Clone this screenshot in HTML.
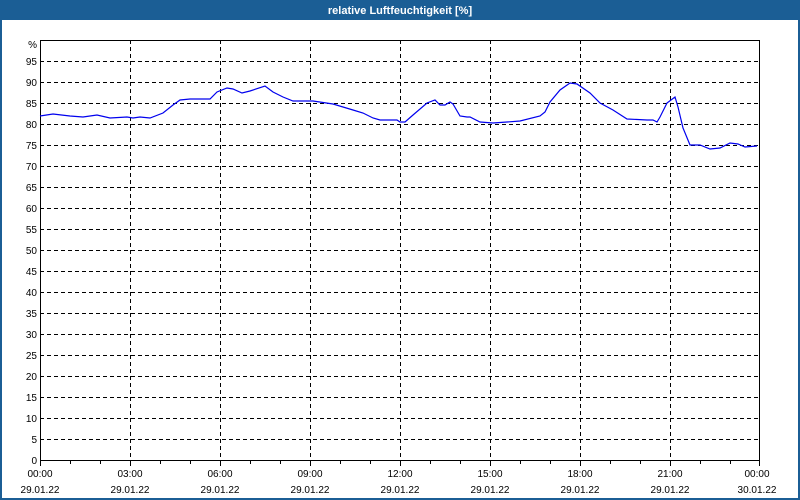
<!DOCTYPE html>
<html><head><meta charset="utf-8"><style>
html,body{margin:0;padding:0;background:#fff;}
svg{display:block;font-family:"Liberation Sans",Tahoma,sans-serif;}
</style></head><body>
<svg width="800" height="500" viewBox="0 0 800 500" xmlns="http://www.w3.org/2000/svg">
<rect x="0" y="0" width="800" height="500" fill="#1b5e95"/>
<rect x="2" y="20" width="796" height="478" fill="#fff"/>
<text x="400" y="14" fill="#fff" font-size="11" font-weight="bold" text-anchor="middle">relative Luftfeuchtigkeit [%]</text>
<g stroke="#000" stroke-width="1" stroke-dasharray="4,3" shape-rendering="crispEdges">
<path d="M40 61.5H760M40 82.5H760M40 103.5H760M40 124.5H760M40 145.5H760M40 166.5H760M40 187.5H760M40 208.5H760M40 229.5H760M40 250.5H760M40 271.5H760M40 292.5H760M40 313.5H760M40 334.5H760M40 355.5H760M40 376.5H760M40 397.5H760M40 418.5H760M40 439.5H760"/>
<path d="M130.5 40V460M220.5 40V460M310.5 40V460M400.5 40V460M490.5 40V460M580.5 40V460M670.5 40V460"/>
</g>
<g stroke="#000" stroke-width="1" fill="none" shape-rendering="crispEdges">
<rect x="40.5" y="40.5" width="719" height="420"/>
<path d="M40.5 460v6M70.5 460v4M100.5 460v4M130.5 460v6M160.5 460v4M190.5 460v4M220.5 460v6M250.5 460v4M280.5 460v4M310.5 460v6M340.5 460v4M370.5 460v4M400.5 460v6M430.5 460v4M460.5 460v4M490.5 460v6M520.5 460v4M550.5 460v4M580.5 460v6M610.5 460v4M640.5 460v4M670.5 460v6M700.5 460v4M730.5 460v4M759.5 460v6"/>
</g>
<g font-size="10" fill="#000" text-anchor="end">
<text x="37" y="48">%</text>
<text x="37" y="65">95</text><text x="37" y="86">90</text><text x="37" y="107">85</text><text x="37" y="128">80</text><text x="37" y="149">75</text><text x="37" y="170">70</text><text x="37" y="191">65</text><text x="37" y="212">60</text><text x="37" y="233">55</text><text x="37" y="254">50</text><text x="37" y="275">45</text><text x="37" y="296">40</text><text x="37" y="317">35</text><text x="37" y="338">30</text><text x="37" y="359">25</text><text x="37" y="380">20</text><text x="37" y="401">15</text><text x="37" y="422">10</text><text x="37" y="443">5</text><text x="37" y="464">0</text>
</g>
<g font-size="10" fill="#000" text-anchor="middle">
<text x="40" y="477">00:00</text><text x="40" y="493">29.01.22</text>
<text x="130" y="477">03:00</text><text x="130" y="493">29.01.22</text>
<text x="220" y="477">06:00</text><text x="220" y="493">29.01.22</text>
<text x="310" y="477">09:00</text><text x="310" y="493">29.01.22</text>
<text x="400" y="477">12:00</text><text x="400" y="493">29.01.22</text>
<text x="490" y="477">15:00</text><text x="490" y="493">29.01.22</text>
<text x="580" y="477">18:00</text><text x="580" y="493">29.01.22</text>
<text x="670" y="477">21:00</text><text x="670" y="493">29.01.22</text>
<text x="757" y="477">00:00</text><text x="757" y="493">30.01.22</text>
</g>
<polyline fill="none" stroke="#0000ee" stroke-width="1.2" points="40,116 53,114 70,116 83,117 97,115 110,118 127,117 133,118 140,117 150,118 163,113 173,105 180,100 190,99 210,99 217,92 227,88 233,89 242,93 250,91 265,86 273,92 283,97 293,101 313,101 333,104 353,110 363,113 373,118 380,120 397,120 400,122 405,122 413,115 427,103 435,100 440,105 445,105 450,102 453,104 460,116 467,117 470,117 480,122 493,123 507,122 520,121 540,116 545,112 550,102 560,90 570,83 577,84 590,93 600,103 613,110 627,119 647,120 653,120 657,122 660,117 667,103 675,97 678,107 683,128 690,145 700,145 710,149 720,148 730,143 738,144 745,147 757,146"/>
</svg>
</body></html>
